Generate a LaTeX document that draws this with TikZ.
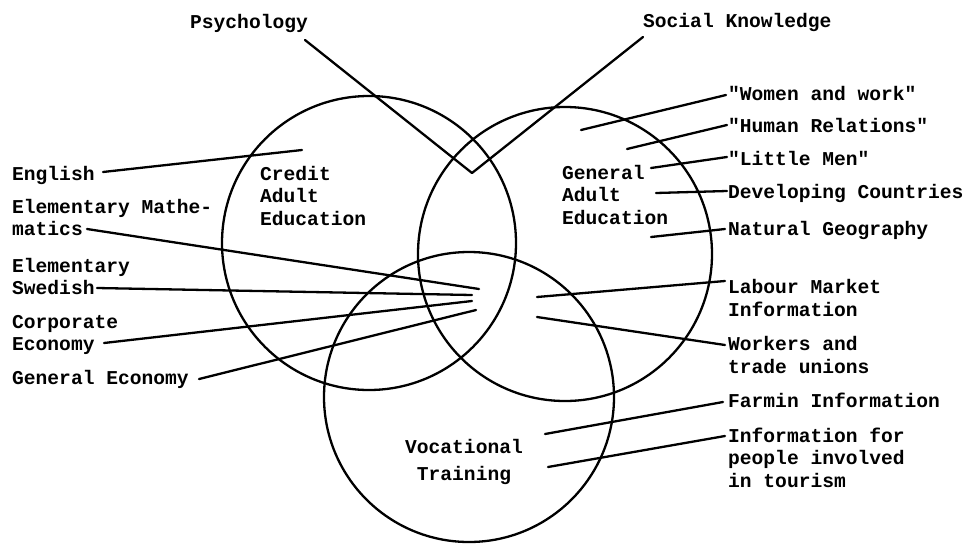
\documentclass[tikz,border=0pt]{standalone}
\usepackage{fontspec}
\newfontfamily\tw{Liberation Mono}
\usetikzlibrary{calc}
\begin{document}
\begin{tikzpicture}[x=1pt,y=-1pt,
  ring/.style={draw,line width=2.3pt},
  wire/.style={draw,line width=2.3pt,line cap=round,line join=round},
  lbl/.style={inner sep=0pt,anchor=base west,align=left,
    font=\tw\bfseries\fontsize{19.6}{22.5}\selectfont},
  hub/.style={inner sep=0pt,anchor=base,align=center,
    font=\tw\bfseries\fontsize{19.6}{27}\selectfont}]
\useasboundingbox[fill=white] (0,0) rectangle (969,544);

% the three fields of study
\draw[ring] (369,243) circle[radius=147];
\draw[ring] (565,254) circle[radius=147];
\draw[ring] (469,397) circle[radius=145];

% field names (multi-line nodes sit on the baseline of their last line)
\node[lbl] (credit) at (260,225) {Credit\\Adult\\Education};
\node[lbl] (general) at (562,224) {General\\Adult\\Education};
\node[hub] (voc) at (464,480) {Vocational\\Training};

% subjects
\node[lbl] (psy) at (190,28) {Psychology};
\node[lbl] (soc) at (643,27) {Social Knowledge};
\node[lbl] (eng) at (12,180) {English};
\node[lbl] (mat) at (12,235.5) {Elementary Mathe-\\matics};
\node[lbl] (swe) at (12,294.5) {Elementary\\Swedish};
\node[lbl] (cor) at (12,350.5) {Corporate\\Economy};
\node[lbl] (gec) at (12,384) {General Economy};
\node[lbl] (wom) at (728,100) {"Women and work"};
\node[lbl] (hum) at (728,132) {"Human Relations"};
\node[lbl] (lit) at (728,165) {"Little Men"};
\node[lbl] (dev) at (728,198) {Developing Countries};
\node[lbl] (nat) at (728,235) {Natural Geography};
\node[lbl] (lab) at (728,316) {Labour Market\\Information};
\node[lbl] (wrk) at (728,373) {Workers and\\trade unions};
\node[lbl] (far) at (728,407) {Farmin Information};
\node[lbl] (tou) at (728,487) {Information for\\people involved\\in tourism};

% inner ends of the pointers
\coordinate (psyV) at (472,173);
\coordinate (engIn) at (302,150);
\coordinate (matIn) at (479,289);
\coordinate (sweIn) at (472,295);
\coordinate (corIn) at (472,301);
\coordinate (gecIn) at (476,310);
\coordinate (womIn) at (581,130);
\coordinate (humIn) at (627,149);
\coordinate (litIn) at (651,168);
\coordinate (devIn) at (656,193);
\coordinate (natIn) at (651,237);
\coordinate (labIn) at (537,297);
\coordinate (wrkIn) at (537,317);
\coordinate (farIn) at (545,434);
\coordinate (touIn) at (548,467);

% pointers
\draw[wire] ($(psy.base west)+(115,12)$) -- (psyV) -- ($(soc.base west)+(0,10)$);
\draw[wire] ($(eng.base west)+(91,-8)$) -- (engIn);
\draw[wire] ($(mat.base west)+(75,-6.5)$) -- (matIn);
\draw[wire] ($(swe.base west)+(85,-6.5)$) -- (sweIn);
\draw[wire] ($(cor.base west)+(92,-7.5)$) -- (corIn);
\draw[wire] ($(gec.base west)+(187,-5)$) -- (gecIn);
\draw[wire] ($(wom.base west)+(-2,-5)$) -- (womIn);
\draw[wire] ($(hum.base west)+(-1,-7)$) -- (humIn);
\draw[wire] ($(lit.base west)+(-1,-8)$) -- (litIn);
\draw[wire] ($(dev.base west)+(-1,-7)$) -- (devIn);
\draw[wire] ($(nat.base west)+(-3,-6)$) -- (natIn);
\draw[wire] ($(lab.base west)+(-3,-35)$) -- (labIn);
\draw[wire] ($(wrk.base west)+(-3,-28)$) -- (wrkIn);
\draw[wire] ($(far.base west)+(-5,-5)$) -- (farIn);
\draw[wire] ($(tou.base west)+(-3,-51)$) -- (touIn);
\end{tikzpicture}
\end{document}
